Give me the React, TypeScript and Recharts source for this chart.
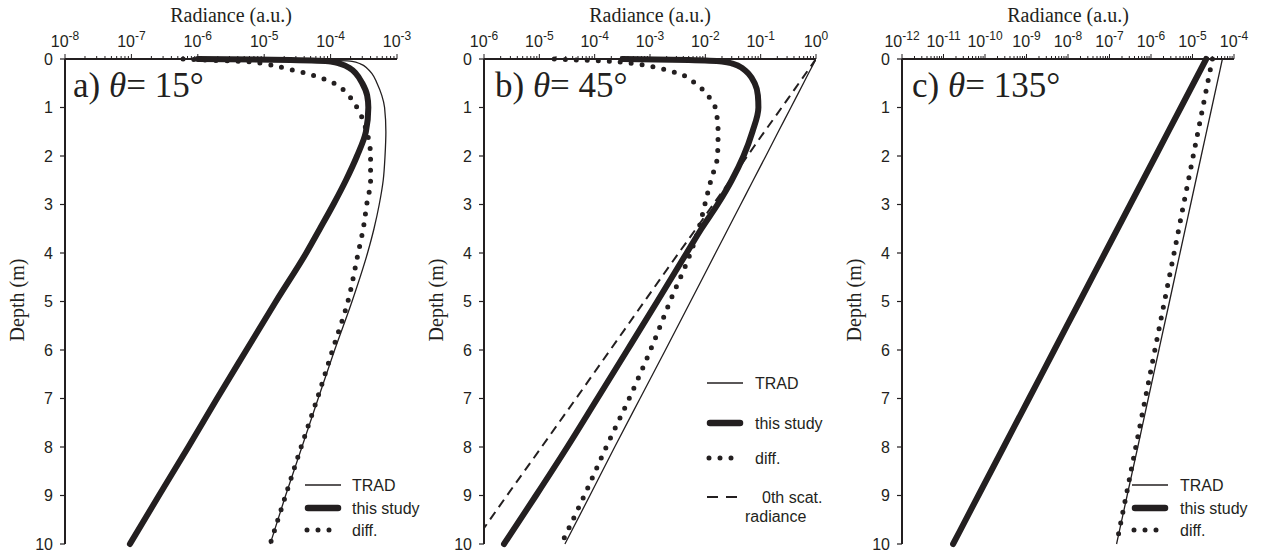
import React from "react";
import { LineChart, Line, XAxis, YAxis } from "recharts";

const INK = "#231f20";
const SANS = '"Liberation Sans", Arial, Helvetica, sans-serif';
const SERIF = '"Liberation Serif", "Times New Roman", serif';

// depth grid (m), shared by panels a and b
const depthAB = [0, 0.02, 0.05, 0.1, 0.2, 0.3, 0.5, 0.75, 1, 1.5, 2, 2.5, 3, 3.5, 4, 5, 6, 7, 8, 9, 10];
const depthC = [0, 1, 2, 3, 4, 5, 6, 7, 8, 9, 10];
const depthTicks = [0, 1, 2, 3, 4, 5, 6, 7, 8, 9, 10];

// a) theta = 15 deg
const tradA = [1.0e-6, 5.0e-5, 2.1e-4, 2.8e-4, 3.6e-4, 4.2e-4, 5.0e-4, 5.9e-4, 6.5e-4, 6.8e-4, 6.6e-4, 6.2e-4, 5.4e-4, 4.5e-4, 3.6e-4, 2.1e-4, 1.15e-4, 6.5e-5, 3.7e-5, 2.1e-5, 1.23e-5];
const studyA = [1.0e-6, 2.5e-5, 1.0e-4, 1.41e-4, 2.0e-4, 2.4e-4, 3.0e-4, 3.55e-4, 3.7e-4, 3.4e-4, 2.5e-4, 1.7e-4, 1.1e-4, 6.9e-5, 4.3e-5, 1.5e-5, 5.4e-6, 1.95e-6, 7.2e-7, 2.6e-7, 9.5e-8];
const diffA = [6.0e-7, 1.12e-6, 5.0e-6, 1.0e-5, 2.2e-5, 4.4e-5, 1.12e-4, 1.86e-4, 2.5e-4, 3.5e-4, 4.0e-4, 4.0e-4, 3.5e-4, 3.1e-4, 2.6e-4, 1.82e-4, 1.07e-4, 6.3e-5, 3.6e-5, 2.1e-5, 1.23e-5];

// b) theta = 45 deg
const tradB = [1, 0.98, 0.949, 0.9, 0.81, 0.73, 0.593, 0.457, 0.352, 0.208, 0.124, 0.0733, 0.0435, 0.0258, 0.0153, 5.4e-3, 1.9e-3, 6.6e-4, 2.3e-4, 8.2e-5, 2.9e-5];
const studyB = [3.2e-4, 5.0e-3, 0.02, 0.032, 0.048, 0.06, 0.078, 0.089, 0.091, 0.071, 0.049, 0.03, 0.0166, 8.5e-3, 4.6e-3, 1.35e-3, 3.9e-4, 1.12e-4, 3.2e-5, 8.7e-6, 2.3e-6];
const diffB = [1.86e-5, 5.0e-5, 2.0e-4, 5.6e-4, 1.58e-3, 3.3e-3, 6.6e-3, 0.011, 0.0151, 0.017, 0.0166, 0.0126, 9.8e-3, 7.6e-3, 5.4e-3, 2.3e-3, 1.02e-3, 4.2e-4, 1.62e-4, 6.5e-5, 2.5e-5];
const zerothB = [1, 0.972, 0.931, 0.867, 0.751, 0.652, 0.49, 0.343, 0.24, 0.117, 0.0575, 0.0282, 0.0138, 6.8e-3, 3.3e-3, 7.9e-4, 1.91e-4, 4.6e-5, 1.1e-5, 2.6e-6, 6.3e-7];

// c) theta = 135 deg
const tradC = [5.25e-5, 2.92e-5, 1.62e-5, 9.0e-6, 5.0e-6, 2.79e-6, 1.55e-6, 8.6e-7, 4.8e-7, 2.66e-7, 1.48e-7];
const studyC = [2.14e-5, 5.25e-6, 1.29e-6, 3.16e-7, 7.76e-8, 1.91e-8, 4.68e-9, 1.15e-9, 2.82e-10, 6.92e-11, 1.7e-11];
const diffC = [3.02e-5, 1.77e-5, 1.04e-5, 6.1e-6, 3.6e-6, 2.11e-6, 1.24e-6, 7.3e-7, 4.3e-7, 2.52e-7, 1.48e-7];

// decade exponents on the top axes
const decadesA = [-8, -7, -6, -5, -4, -3];
const decadesB = [-6, -5, -4, -3, -2, -1, 0];
const decadesC = [-12, -11, -10, -9, -8, -7, -6, -5, -4];

const PANEL_W = 420;
const PANEL_H = 558;
const AXIS_Y = 59;

function logTicks(decades: number[]) {
  const out: number[] = [];
  decades.forEach((e, i) => {
    out.push(Math.pow(10, e));
    if (i < decades.length - 1) for (let m = 2; m <= 9; m++) out.push(m * Math.pow(10, e));
  });
  return out;
}

function TopTick(props: any) {
  const { x, payload } = props;
  const e = Math.log10(payload.value);
  const k = Math.round(e);
  const major = Math.abs(e - k) < 1e-6;
  return (
    <g>
      <line x1={x} x2={x} y1={AXIS_Y} y2={AXIS_Y - (major ? 5 : 3)} stroke={INK} strokeWidth={1} />
      {major && (
        <text x={x} y={47} textAnchor="middle" fill={INK} fontFamily={SANS} fontSize={16}>
          10
          <tspan fontSize={12} dy={-7}>{String(k)}</tspan>
        </text>
      )}
    </g>
  );
}

const styles: Record<string, any> = {
  trad: { stroke: INK, strokeWidth: 1.3 },
  study: { stroke: INK, strokeWidth: 6, strokeLinecap: "round" },
  diff: { stroke: INK, strokeWidth: 5, strokeDasharray: "0 11", strokeLinecap: "round" },
  zeroth: { stroke: INK, strokeWidth: 2, strokeDasharray: "9 6" },
};

function Panel({
  left,
  depth,
  series,
  decades,
}: {
  left: number;
  depth: number[];
  series: Record<string, number[]>;
  decades: number[];
}) {
  const data = depth.map((d, i) => {
    const row: Record<string, number> = { depth: d };
    Object.keys(series).forEach((k) => (row[k] = series[k][i]));
    return row;
  });
  const domain = [Math.pow(10, decades[0]), Math.pow(10, decades[decades.length - 1])];
  return (
    <div style={{ position: "absolute", left, top: 0 }}>
      <LineChart
        layout="vertical"
        width={PANEL_W}
        height={PANEL_H}
        data={data}
        margin={{ top: 29, right: 23, bottom: 14, left: 15 }}
      >
        <XAxis
          type="number"
          scale="log"
          orientation="top"
          domain={domain}
          ticks={logTicks(decades)}
          interval={0}
          height={30}
          tick={<TopTick />}
          tickLine={false}
          axisLine={{ stroke: INK, strokeWidth: 2 }}
          allowDataOverflow
        />
        <YAxis
          type="number"
          dataKey="depth"
          domain={[0, 10]}
          ticks={depthTicks}
          interval={0}
          width={50}
          tickSize={5}
          tickMargin={7}
          tick={{ fill: INK, fontSize: 16, fontFamily: SANS }}
          tickLine={{ stroke: INK, strokeWidth: 1.2 }}
          axisLine={{ stroke: INK, strokeWidth: 2 }}
        />
        {Object.keys(series).map((k) => (
          <Line
            key={k}
            dataKey={k}
            type="monotone"
            dot={false}
            activeDot={false}
            isAnimationActive={false}
            {...styles[k]}
          />
        ))}
      </LineChart>
    </div>
  );
}

function Swatch({ x, y, kind }: { x: number; y: number; kind: string }) {
  const s = styles[kind];
  if (kind === "diff") return <line x1={x + 2} x2={x + 35} y1={y} y2={y} {...s} />;
  if (kind === "study") return <line x1={x + 3} x2={x + 33} y1={y} y2={y} {...s} strokeWidth={6.5} />;
  if (kind === "zeroth") return <line x1={x} x2={x + 36} y1={y} y2={y} stroke={INK} strokeWidth={2} strokeDasharray="11 8" />;
  return <line x1={x} x2={x + 36} y1={y} y2={y} {...s} />;
}

function LegendText({ x, y, children }: { x: number; y: number; children: React.ReactNode }) {
  return (
    <text x={x} y={y} dominantBaseline="central" fill={INK} fontFamily={SANS} fontSize={16}>
      {children}
    </text>
  );
}

function Overlay() {
  const panels = [
    { off: 0, letter: "a)", angle: "15°", x: 73 },
    { off: 419, letter: "b)", angle: "45°", x: 495 },
    { off: 837, letter: "c)", angle: "135°", x: 912 },
  ];
  return (
    <svg width={1265} height={558} style={{ position: "absolute", left: 0, top: 0, pointerEvents: "none" }}>
      {panels.map((p) => (
        <g key={p.letter}>
          <text x={p.off + 231} y={22} textAnchor="middle" fill={INK} fontFamily={SERIF} fontSize={20}>
            Radiance (a.u.)
          </text>
          <text
            x={p.off + 24}
            y={300}
            transform={`rotate(-90 ${p.off + 24} 300)`}
            textAnchor="middle"
            fill={INK}
            fontFamily={SERIF}
            fontSize={20}
          >
            Depth (m)
          </text>
          <text x={p.x} y={97} fill={INK} fontFamily={SERIF} fontSize={35}>
            {p.letter} <tspan fontStyle="italic">θ</tspan>= {p.angle}
          </text>
        </g>
      ))}

      {/* legend a */}
      <Swatch x={305} y={485} kind="trad" />
      <LegendText x={352} y={485}>TRAD</LegendText>
      <Swatch x={305} y={508} kind="study" />
      <LegendText x={352} y={508}>this study</LegendText>
      <Swatch x={305} y={530} kind="diff" />
      <LegendText x={352} y={530}>diff.</LegendText>

      {/* legend b */}
      <Swatch x={707} y={383} kind="trad" />
      <LegendText x={755} y={383}>TRAD</LegendText>
      <Swatch x={707} y={423} kind="study" />
      <LegendText x={755} y={423}>this study</LegendText>
      <Swatch x={707} y={458} kind="diff" />
      <LegendText x={755} y={458}>diff.</LegendText>
      <Swatch x={707} y={497} kind="zeroth" />
      <LegendText x={762} y={497}>0th scat.</LegendText>
      <LegendText x={745} y={516}>radiance</LegendText>

      {/* legend c */}
      <Swatch x={1132} y={485} kind="trad" />
      <LegendText x={1180} y={485}>TRAD</LegendText>
      <Swatch x={1132} y={508} kind="study" />
      <LegendText x={1180} y={508}>this study</LegendText>
      <Swatch x={1132} y={530} kind="diff" />
      <LegendText x={1180} y={530}>diff.</LegendText>
    </svg>
  );
}

export default function App() {
  return (
    <div style={{ position: "absolute", left: 0, top: 0, width: 1265, height: 558, background: "#fff" }}>
      <Panel left={0} depth={depthAB} decades={decadesA} series={{ trad: tradA, study: studyA, diff: diffA }} />
      <Panel
        left={419}
        depth={depthAB}
        decades={decadesB}
        series={{ trad: tradB, study: studyB, diff: diffB, zeroth: zerothB }}
      />
      <Panel left={837} depth={depthC} decades={decadesC} series={{ trad: tradC, study: studyC, diff: diffC }} />
      <Overlay />
    </div>
  );
}
